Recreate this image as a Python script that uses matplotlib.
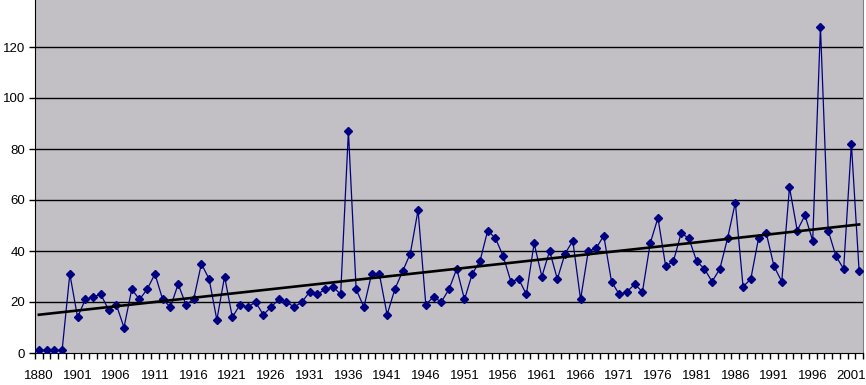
import numpy as np
import matplotlib
matplotlib.use("Agg")
import matplotlib.pyplot as plt

# categories: 1880, four early years, then 1901..2002 one per year
years = ["1880", "1885", "1890", "1895", "1900"] + [str(y) for y in range(1901, 2003)]
values = [
    1, 1, 1, 1, 31,
    14, 21, 22, 23, 17, 19, 10, 25, 21, 25,   # 1901-1910
    31, 21, 18, 27, 19, 21, 35, 29, 13, 30,   # 1911-1920
    14, 19, 18, 20, 15, 18, 21, 20, 18, 20,   # 1921-1930
    24, 23, 25, 26, 23, 87, 25, 18, 31, 31,   # 1931-1940
    15, 25, 32, 39, 56, 19, 22, 20, 25, 33,   # 1941-1950
    21, 31, 36, 48, 45, 38, 28, 29, 23, 43,   # 1951-1960
    30, 40, 29, 39, 44, 21, 40, 41, 46, 28,   # 1961-1970
    23, 24, 27, 24, 43, 53, 34, 36, 47, 45,   # 1971-1980
    36, 33, 28, 33, 45, 59, 26, 29, 45, 47,   # 1981-1990
    34, 28, 65, 48, 54, 44, 128, 48, 38, 33,  # 1991-2000
    82, 32,                                   # 2001-2002
]
# linear trendline values at the first and last category
trend_ends = [15.0, 50.4]
y_ticks = [0, 20, 40, 60, 80, 100, 120, 140]

plt.rcParams["font.family"] = ["Liberation Sans", "DejaVu Sans"]

x = np.arange(len(years))
fig = plt.figure(figsize=(8.66, 3.85), dpi=100)
ax = fig.add_axes([35 / 866, 32 / 385, 828 / 866, 357 / 385])
ax.set_facecolor("#c2c0c5")

for v in y_ticks[1:]:
    ax.axhline(v, color="black", lw=1, zorder=1)

ax.plot(x, values, color="#000080", lw=0.9, marker="D", markersize=4.5,
        markeredgecolor="#000080", markerfacecolor="#000080", zorder=3)

ax.plot([x[0], x[-1]], trend_ends, color="black", lw=1.9, zorder=4)

ax.set_xlim(-0.5, len(years) - 0.5)
ax.set_ylim(0, 140)
ax.set_yticks(y_ticks)
ax.set_xticks(x[::5])
ax.set_xticklabels(years[::5])
ax.set_xticks(np.arange(len(years) + 1) - 0.5, minor=True)
ax.tick_params(axis="x", which="major", length=0, pad=12, labelsize=9.5)
ax.tick_params(axis="x", which="minor", length=4, width=1, direction="out")
ax.tick_params(axis="y", length=4, width=1, direction="out", pad=3, labelsize=9.5)

ax.spines["top"].set_visible(False)
ax.spines["right"].set_color("#808080")
ax.spines["left"].set_color("black")
ax.spines["bottom"].set_color("black")

fig.savefig("out.png", dpi=100)
